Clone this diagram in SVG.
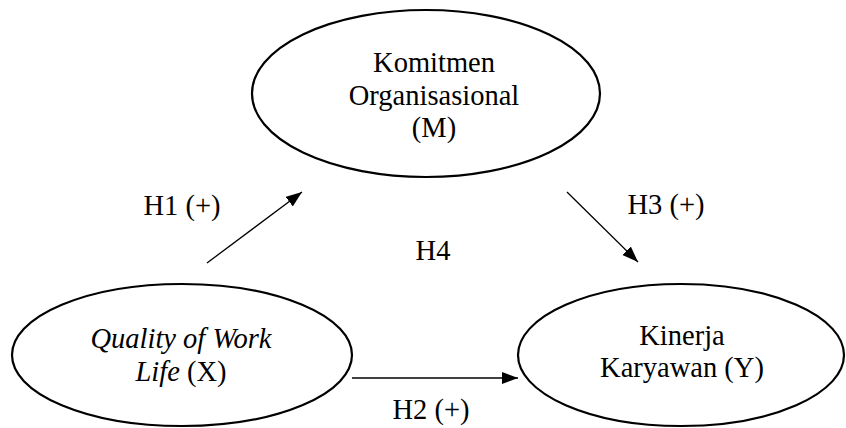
<svg xmlns="http://www.w3.org/2000/svg" width="846" height="428" viewBox="0 0 846 428">
<defs>
<style>
.node{fill:#fff;stroke:#000;stroke-width:2.2}
.t{font-family:"Liberation Serif","Times New Roman",serif;font-size:28.5px;fill:#000;text-anchor:middle}
.edge{stroke:#000;stroke-width:1.3;fill:none;marker-end:url(#ah)}
</style>
<marker id="ah" markerUnits="userSpaceOnUse" markerWidth="17" markerHeight="13" refX="16" refY="6" orient="auto">
<path d="M0,0 L16,6 L0,12 z" fill="#000"/>
</marker>
</defs>
<rect width="846" height="428" fill="#fff"/>
<g id="connectors">
<line class="edge" x1="207" y1="263" x2="302" y2="192"/>
<line class="edge" x1="567" y1="192" x2="638" y2="262"/>
<line class="edge" x1="352" y1="378" x2="518" y2="378"/>
</g>
<g id="node-m">
<ellipse class="node" cx="426" cy="93.5" rx="174" ry="83.5"/>
<text class="t" x="434" y="72">Komitmen</text>
<text class="t" x="434" y="104.5">Organisasional</text>
<text class="t" x="434" y="137">(M)</text>
</g>
<g id="node-x">
<ellipse class="node" cx="182" cy="355" rx="170" ry="71"/>
<text class="t" x="181" y="348" font-style="italic">Quality of Work</text>
<text class="t" x="181" y="381"><tspan font-style="italic">Life</tspan> (X)</text>
</g>
<g id="node-y">
<ellipse class="node" cx="681" cy="355" rx="163" ry="71"/>
<text class="t" x="682" y="345">Kinerja</text>
<text class="t" x="682" y="377">Karyawan (Y)</text>
</g>
<g id="labels">
<text class="t" x="182" y="215">H1 (+)</text>
<text class="t" x="666" y="214">H3 (+)</text>
<text class="t" x="433" y="260">H4</text>
<text class="t" x="431" y="419">H2 (+)</text>
</g>
</svg>
